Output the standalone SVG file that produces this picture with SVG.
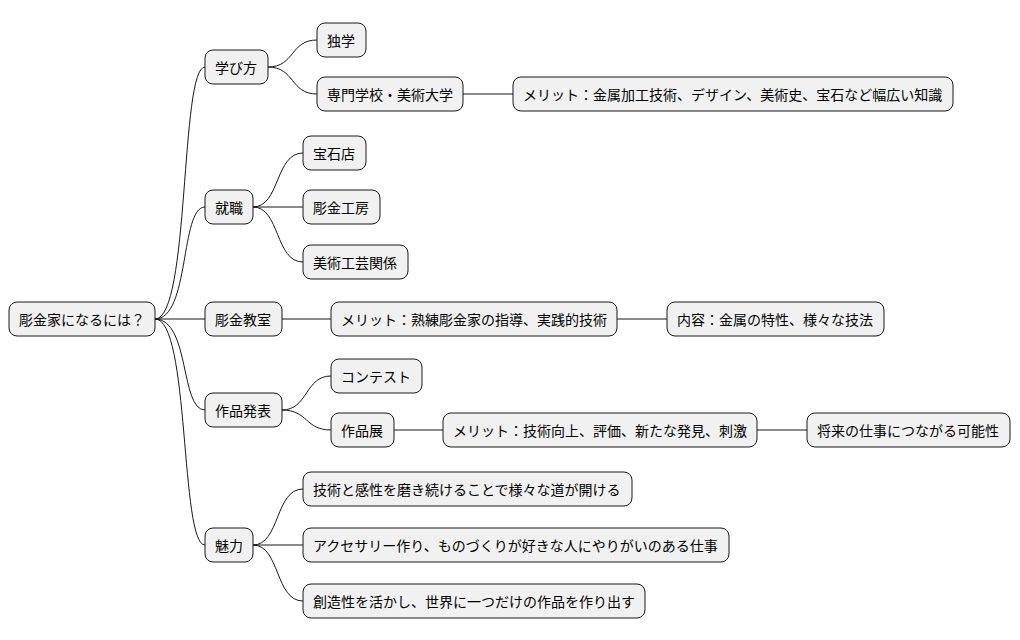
<svg xmlns="http://www.w3.org/2000/svg" width="1020" height="640" viewBox="0 0 1020 640">
<style>
.n rect{fill:#f1f1f1;stroke:#181818;stroke-width:1}
.n text{font-family:"Noto Sans CJK JP","Liberation Sans",sans-serif;font-size:14px;fill:#000;dominant-baseline:central}
.c path{fill:none;stroke:#181818;stroke-width:1}
</style>
<rect width="1020" height="640" fill="#fff"/>
<g class="c">
<path d="M155,319 C190,319 180,67 205,67"/>
<path d="M155,319 C190,319 180,207 205,207"/>
<path d="M155,319 L205,319"/>
<path d="M155,319 C190,319 180,410 205,410"/>
<path d="M155,319 C190,319 180,545 205,545"/>
<path d="M268,67 C295,67 290,40 317,40"/>
<path d="M268,67 C295,67 290,94 317,94"/>
<path d="M463,94 L513,94"/>
<path d="M253,207 C280,207 275,153 303,153"/>
<path d="M253,207 L303,207"/>
<path d="M253,207 C280,207 275,262 303,262"/>
<path d="M282,319 L331,319"/>
<path d="M617,319 L667,319"/>
<path d="M282,410 C308,410 305,376 331,376"/>
<path d="M282,410 C308,410 305,430 331,430"/>
<path d="M394,430 L443,430"/>
<path d="M757,430 L807,430"/>
<path d="M253,545 C280,545 275,489 303,489"/>
<path d="M253,545 L303,545"/>
<path d="M253,545 C280,545 275,601 303,601"/>
</g>
<g id="root" class="n"><rect x="9" y="302" width="146" height="34" rx="8"/><text x="19" y="319">彫金家になるには？</text></g>
<g id="n1" class="n"><rect x="205" y="50" width="63" height="34" rx="8"/><text x="215" y="67">学び方</text></g>
<g id="n1a" class="n"><rect x="317" y="23" width="49" height="34" rx="8"/><text x="327" y="40">独学</text></g>
<g id="n1b" class="n"><rect x="317" y="77" width="146" height="34" rx="8"/><text x="327" y="94">専門学校・美術大学</text></g>
<g id="n1c" class="n"><rect x="513" y="77" width="440" height="34" rx="8"/><text x="523" y="94">メリット：金属加工技術、デザイン、美術史、宝石など幅広い知識</text></g>
<g id="n2" class="n"><rect x="205" y="190" width="48" height="34" rx="8"/><text x="215" y="207">就職</text></g>
<g id="n2a" class="n"><rect x="303" y="136" width="63" height="34" rx="8"/><text x="313" y="153">宝石店</text></g>
<g id="n2b" class="n"><rect x="303" y="190" width="77" height="34" rx="8"/><text x="313" y="207">彫金工房</text></g>
<g id="n2c" class="n"><rect x="303" y="245" width="105" height="34" rx="8"/><text x="313" y="262">美術工芸関係</text></g>
<g id="n3" class="n"><rect x="205" y="302" width="77" height="34" rx="8"/><text x="215" y="319">彫金教室</text></g>
<g id="n3a" class="n"><rect x="331" y="302" width="286" height="34" rx="8"/><text x="341" y="319">メリット：熟練彫金家の指導、実践的技術</text></g>
<g id="n3b" class="n"><rect x="667" y="302" width="217" height="34" rx="8"/><text x="677" y="319">内容：金属の特性、様々な技法</text></g>
<g id="n4" class="n"><rect x="205" y="393" width="77" height="34" rx="8"/><text x="215" y="410">作品発表</text></g>
<g id="n4a" class="n"><rect x="331" y="359" width="91" height="34" rx="8"/><text x="341" y="376">コンテスト</text></g>
<g id="n4b" class="n"><rect x="331" y="413" width="63" height="34" rx="8"/><text x="341" y="430">作品展</text></g>
<g id="n4c" class="n"><rect x="443" y="413" width="314" height="34" rx="8"/><text x="453" y="430">メリット：技術向上、評価、新たな発見、刺激</text></g>
<g id="n4d" class="n"><rect x="807" y="413" width="203" height="34" rx="8"/><text x="817" y="430">将来の仕事につながる可能性</text></g>
<g id="n5" class="n"><rect x="205" y="528" width="48" height="34" rx="8"/><text x="215" y="545">魅力</text></g>
<g id="n5a" class="n"><rect x="303" y="472" width="329" height="34" rx="8"/><text x="313" y="489">技術と感性を磨き続けることで様々な道が開ける</text></g>
<g id="n5b" class="n"><rect x="303" y="528" width="426" height="34" rx="8"/><text x="313" y="545">アクセサリー作り、ものづくりが好きな人にやりがいのある仕事</text></g>
<g id="n5c" class="n"><rect x="303" y="584" width="342" height="34" rx="8"/><text x="313" y="601">創造性を活かし、世界に一つだけの作品を作り出す</text></g>
</svg>
